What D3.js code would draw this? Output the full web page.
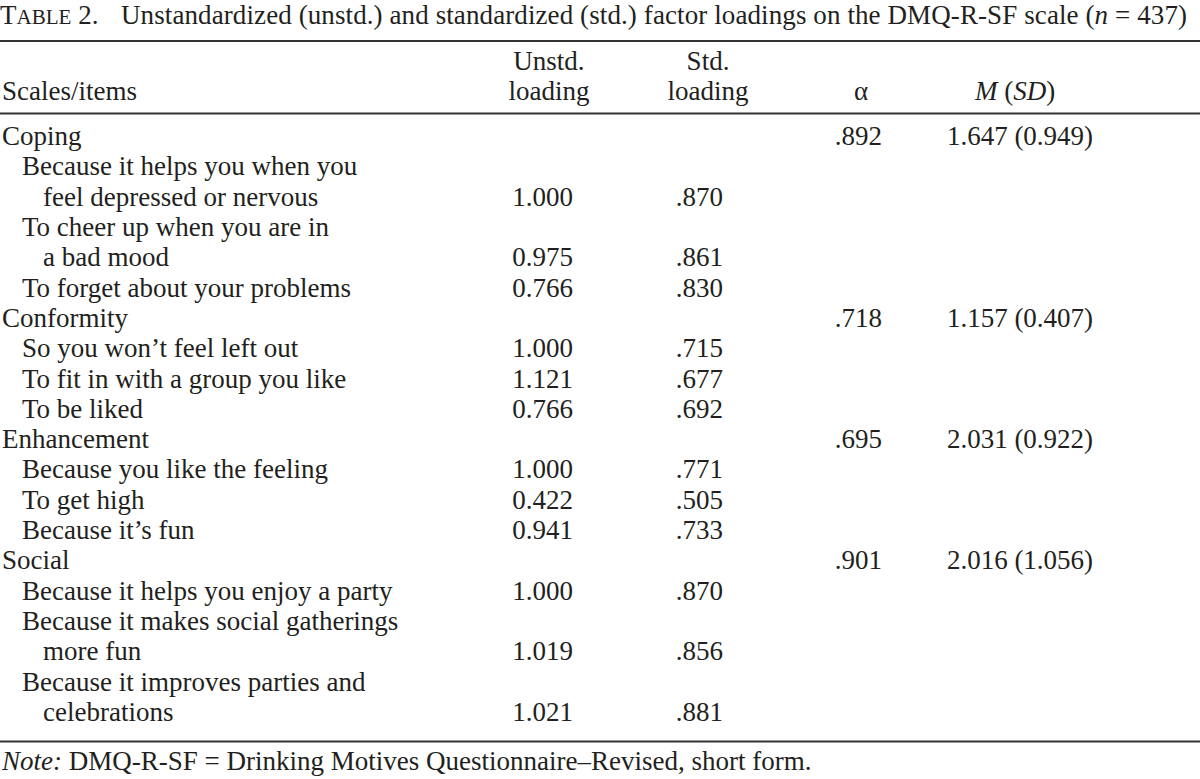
<!DOCTYPE html>
<html>
<head>
<meta charset="utf-8">
<script src="https://cdn.jsdelivr.net/npm/d3@7"></script>
<style>
  body { margin: 0; background: #fff; }
  svg text { font-family: "Liberation Serif", "Times New Roman", serif; fill: #231f20; }
</style>
</head>
<body>
<svg id="tbl" width="1200" height="779"></svg>
<script>
// table values
var scales = ["Coping", "Conformity", "Enhancement", "Social"];
var alphas = [0.892, 0.718, 0.695, 0.901];
var means = [1.647, 1.157, 2.031, 2.016];
var sds = [0.949, 0.407, 0.922, 1.056];

// item labels, split in lines as printed
var items = [
    [["Because it helps you when you", "feel depressed or nervous"], ["To cheer up when you are in", "a bad mood"], ["To forget about your problems"]],
    [["So you won\u2019t feel left out"], ["To fit in with a group you like"], ["To be liked"]],
    [["Because you like the feeling"], ["To get high"], ["Because it\u2019s fun"]],
    [["Because it helps you enjoy a party"], ["Because it makes social gatherings", "more fun"], ["Because it improves parties and", "celebrations"]]
];
var unstd = [[1.000, 0.975, 0.766], [1.000, 1.121, 0.766], [1.000, 0.422, 0.941], [1.000, 1.019, 1.021]];
var std = [[0.870, 0.861, 0.830], [0.715, 0.677, 0.692], [0.771, 0.505, 0.733], [0.870, 0.856, 0.881]];

var f3 = d3.format(".3f"),
    noLead = function(v) { return f3(v).replace(/^0\./, "."); };

// flatten to printed rows
var rows = [];
scales.forEach(function(s, i) {
    rows.push({ kind: "scale", label: s, alpha: alphas[i], m: means[i], sd: sds[i] });
    items[i].forEach(function(lines, j) {
        lines.forEach(function(line, k) {
            var last = k === lines.length - 1;
            rows.push({
                kind: k === 0 ? "item" : "cont",
                label: line,
                unstd: last ? unstd[i][j] : null,
                std: last ? std[i][j] : null
            });
        });
    });
});

var svg = d3.select("#tbl"),
    width = +svg.attr("width"),
    fs = 27;

var y = d3.scaleLinear().domain([0, rows.length - 1]).range([145, 721]);
var indent = { scale: 2, item: 22, cont: 43 };
var col = { unstd: 573, unstdHead: 549, std: 723, stdHead: 708, alpha: 882, alphaHead: 861, msd: 1020, msdHead: 1015 };

// title (baseline kept low enough so the glyph box stays inside)
var titleY = 24;
var title = svg.append("text").attr("y", titleY).attr("font-size", fs);
title.append("tspan").attr("x", 0).text("T");
title.append("tspan").attr("font-size", fs * 0.78).text("ABLE");
title.append("tspan").text(" 2.");
var t2 = svg.append("text").attr("x", 121).attr("y", titleY).attr("font-size", fs)
    .attr("textLength", 1066).attr("lengthAdjust", "spacing");
t2.append("tspan").text("Unstandardized (unstd.) and standardized (std.) factor loadings on the DMQ-R-SF scale (");
t2.append("tspan").attr("font-style", "italic").text("n");
t2.append("tspan").text(" = 437)");

// rules
[41, 113.5, 741.5].forEach(function(r) {
    svg.append("line").attr("x1", 0).attr("x2", width)
       .attr("y1", r).attr("y2", r)
       .attr("stroke", "#333").attr("stroke-width", 1.8);
});

// header
var head = svg.append("g").attr("font-size", fs);
head.append("text").attr("x", 2).attr("y", 100).text("Scales/items");
head.append("text").attr("x", col.unstdHead).attr("y", 70).attr("text-anchor", "middle").text("Unstd.");
head.append("text").attr("x", col.unstdHead).attr("y", 100).attr("text-anchor", "middle").text("loading");
head.append("text").attr("x", col.stdHead).attr("y", 70).attr("text-anchor", "middle").text("Std.");
head.append("text").attr("x", col.stdHead).attr("y", 100).attr("text-anchor", "middle").text("loading");
head.append("text").attr("x", col.alphaHead).attr("y", 100).attr("text-anchor", "middle").text("\u03b1");
var msdh = head.append("text").attr("x", col.msdHead).attr("y", 100).attr("text-anchor", "middle");
msdh.append("tspan").attr("font-style", "italic").text("M");
msdh.append("tspan").text(" (");
msdh.append("tspan").attr("font-style", "italic").text("SD");
msdh.append("tspan").text(")");

// body rows
var row = svg.append("g").attr("font-size", fs)
    .selectAll("g")
    .data(rows)
    .enter().append("g")
        .attr("transform", function(d, i) { return "translate(0," + y(i) + ")"; });

row.append("text")
   .attr("x", function(d) { return indent[d.kind]; })
   .text(function(d) { return d.label; });

row.filter(function(d) { return d.unstd != null; })
   .append("text").attr("x", col.unstd).attr("text-anchor", "end")
   .text(function(d) { return f3(d.unstd); });

row.filter(function(d) { return d.std != null; })
   .append("text").attr("x", col.std).attr("text-anchor", "end")
   .text(function(d) { return noLead(d.std); });

var sc = row.filter(function(d) { return d.kind === "scale"; });
sc.append("text").attr("x", col.alpha).attr("text-anchor", "end")
  .text(function(d) { return noLead(d.alpha); });
sc.append("text").attr("x", col.msd).attr("text-anchor", "middle")
  .text(function(d) { return f3(d.m) + " (" + f3(d.sd) + ")"; });

// note
var note = svg.append("text").attr("x", 2).attr("y", 770).attr("font-size", fs);
note.append("tspan").attr("font-style", "italic").text("Note:");
note.append("tspan").text(" DMQ-R-SF = Drinking Motives Questionnaire\u2013Revised, short form.");
</script>
</body>
</html>
